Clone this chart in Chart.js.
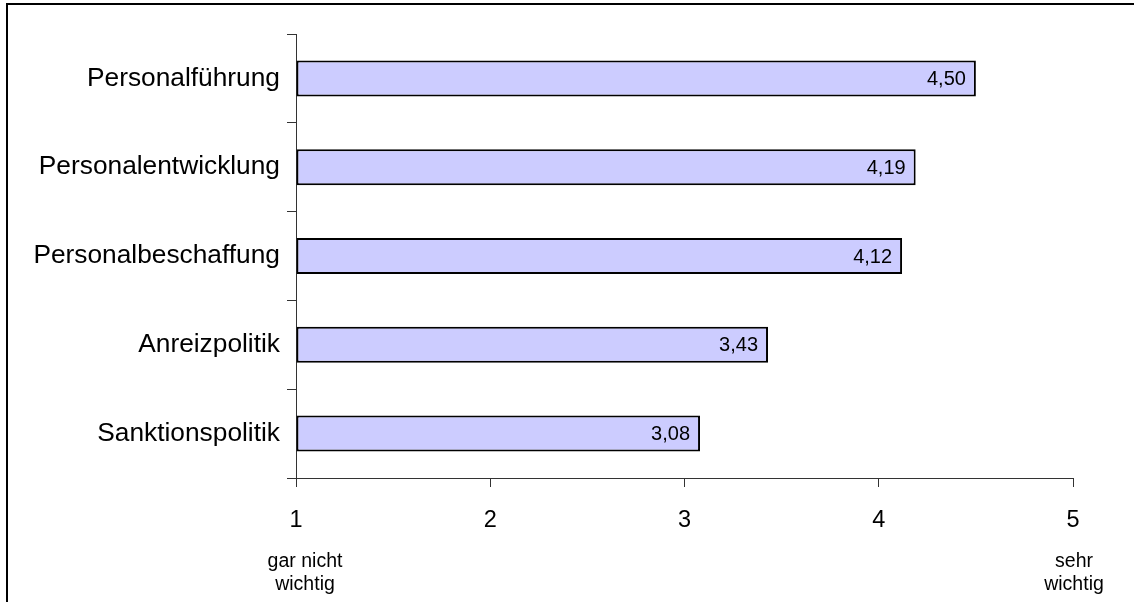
<!DOCTYPE html>
<html>
<head>
<meta charset="utf-8">
<script src="https://cdn.jsdelivr.net/npm/chart.js@4/dist/chart.umd.min.js"></script>
<style>
  html, body { margin: 0; padding: 0; background: #fff; overflow: hidden; }
  canvas { display: block; }
</style>
</head>
<body>
<canvas id="c" width="1134" height="602"></canvas>
<script>
// Bewertung der Bereiche (1 = gar nicht wichtig, 5 = sehr wichtig)
const categories = ['Personalführung', 'Personalentwicklung', 'Personalbeschaffung', 'Anreizpolitik', 'Sanktionspolitik'];
const values = [4.50, 4.19, 4.12, 3.43, 3.08];
const scaleTicks = [1, 2, 3, 4, 5];
const lowCaption = ['gar nicht', 'wichtig'];
const highCaption = ['sehr', 'wichtig'];

const FONT = '"Liberation Sans", Arial, Helvetica, sans-serif';
const AXIS_COLOR = '#333';

// Outer frame (left and top edges)
const framePlugin = {
  id: 'frame',
  beforeDraw(chart) {
    const ctx = chart.ctx;
    ctx.save();
    ctx.fillStyle = '#000';
    ctx.fillRect(6, 3, 2, chart.height);
    ctx.fillRect(6, 3, chart.width, 2);
    ctx.restore();
  }
};

// Values printed inside the right end of each bar
const valueLabelPlugin = {
  id: 'valueLabels',
  afterDatasetsDraw(chart) {
    const ctx = chart.ctx;
    const meta = chart.getDatasetMeta(0);
    ctx.save();
    ctx.font = '20px ' + FONT;
    ctx.fillStyle = '#000';
    ctx.textAlign = 'right';
    ctx.textBaseline = 'middle';
    meta.data.forEach((bar, i) => {
      const txt = values[i].toFixed(2).replace('.', ',');
      ctx.fillText(txt, bar.x - 10, bar.y + 1);
    });
    ctx.restore();
  }
};

// Scale end captions under the first and last tick
const captionPlugin = {
  id: 'captions',
  afterDraw(chart) {
    const ctx = chart.ctx;
    const xs = chart.scales.x;
    ctx.save();
    ctx.font = '19.5px ' + FONT;
    ctx.fillStyle = '#000';
    ctx.textAlign = 'center';
    ctx.textBaseline = 'middle';
    const x1 = xs.getPixelForValue(scaleTicks[0]) + 9;
    const x5 = xs.getPixelForValue(scaleTicks[scaleTicks.length - 1]) + 1;
    lowCaption.forEach((t, i) => ctx.fillText(t, x1, 562 + i * 23));
    highCaption.forEach((t, i) => ctx.fillText(t, x5, 562 + i * 23));
    ctx.restore();
  }
};

new Chart(document.getElementById('c'), {
  type: 'bar',
  data: {
    labels: categories,
    datasets: [{
      data: values,
      base: scaleTicks[0],
      backgroundColor: '#CCCCFF',
      borderColor: '#000',
      borderWidth: 2,
      borderSkipped: false,
      barPercentage: 0.405,
      categoryPercentage: 1
    }]
  },
  options: {
    responsive: false,
    animation: false,
    indexAxis: 'y',
    layout: { padding: { left: 0, top: 34, right: 61, bottom: 0 } },
    plugins: { legend: { display: false }, tooltip: { enabled: false } },
    scales: {
      x: {
        type: 'linear',
        min: scaleTicks[0],
        max: scaleTicks[scaleTicks.length - 1],
        afterBuildTicks(scale) { scale.ticks = scaleTicks.map(v => ({ value: v })); },
        ticks: {
          font: { family: FONT, size: 23.5 },
          color: '#000',
          padding: 19,
          maxRotation: 0,
          autoSkip: false,
          callback: v => String(v)
        },
        grid: { drawOnChartArea: false, drawTicks: true, tickLength: 9, color: AXIS_COLOR },
        border: { color: AXIS_COLOR, width: 1 },
        afterFit(scale) { scale.height = 124; }
      },
      y: {
        ticks: {
          font: { family: FONT, size: 26.3 },
          color: '#000',
          padding: 7
        },
        grid: { drawOnChartArea: false, drawTicks: true, tickLength: 9, offset: true, color: AXIS_COLOR },
        border: { color: AXIS_COLOR, width: 1 },
        afterFit(scale) { scale.width = 296; }
      }
    }
  },
  plugins: [framePlugin, valueLabelPlugin, captionPlugin]
});
</script>
</body>
</html>
